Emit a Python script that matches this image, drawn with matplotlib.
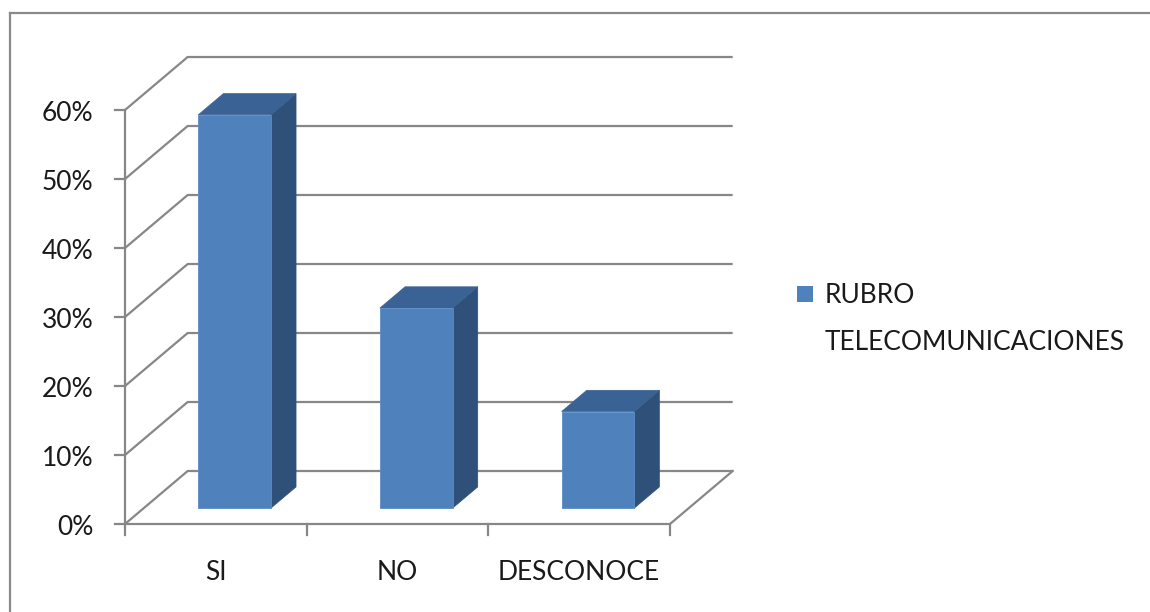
import matplotlib
matplotlib.use("Agg")
import matplotlib.pyplot as plt
from matplotlib.patches import Polygon, Rectangle

# Chart data
categories = ["SI", "NO", "DESCONOCE"]
values = [57, 29, 14]  # percent
y_ticks = [0, 10, 20, 30, 40, 50, 60]
y_tick_labels = ["0%", "10%", "20%", "30%", "40%", "50%", "60%"]
series_lines = ["RUBRO", "TELECOMUNICACIONES"]

# Oblique projection: depth offset of the back wall in data units
DX = 0.345   # in category units
DY = 7.68    # in percent units
BAR_W = 0.4
D0, D1 = 0.3, 0.7  # bar depth span (fraction of full depth)

FRONT = "#4F81BD"
TOP = "#3B6294"
SIDE = "#2F5079"
GRID = "#878787"
TEXT = "#1a1a1a"
FONT = "Lato"
FS = 19

fig = plt.figure(figsize=(11.5, 6.12), dpi=100)
fig.patch.set_facecolor("white")

# Outer chart border (left and top edges visible)
fig.add_artist(plt.Line2D([10 / 1150, 10 / 1150], [0, 1 - 13 / 612],
                          transform=fig.transFigure, color="#8A8A8A", lw=1.6))
fig.add_artist(plt.Line2D([10 / 1150, 1], [1 - 13 / 612, 1 - 13 / 612],
                          transform=fig.transFigure, color="#8A8A8A", lw=1.6))

# Plot axes; limits give 181.67 px per category and 6.9 px per percent
ax = fig.add_axes([20 / 1150, 12 / 612, 740 / 1150, 570 / 612])
ax.set_xlim((20 - 125) / 181.67, (760 - 125) / 181.67)
ax.set_ylim((524 - 600) / 6.9, (524 - 30) / 6.9)
ax.axis("off")

n = len(categories)
ymax = y_ticks[-1]

# Walls: side-wall diagonals and back-wall gridlines
for v in y_ticks:
    ax.plot([0, DX, n + DX], [v, v + DY, v + DY], color=GRID, lw=1.6,
            solid_capstyle="butt", zorder=1)
# Floor outline
ax.plot([0, n, n + DX], [0, 0, DY], color=GRID, lw=1.6, zorder=1)

# Vertical axis with ticks
ax.plot([0, 0], [0, ymax], color=GRID, lw=1.6, zorder=1)
for v, lab in zip(y_ticks, y_tick_labels):
    ax.plot([-0.055, 0], [v, v], color=GRID, lw=1.6, zorder=1)
    ax.text(-0.175, v - 0.5, lab, ha="right", va="center", fontsize=FS,
            family=FONT, color=TEXT)

# Category axis ticks and labels
for i in range(n + 1):
    ax.plot([i, i], [0, -1.6], color=GRID, lw=1.6, zorder=1)
for i, cat in enumerate(categories):
    ax.text(i + 0.5, -7.1, cat, ha="center", va="center", fontsize=FS,
            family=FONT, color=TEXT)

# 3D columns
for i, v in enumerate(values):
    x0 = i + 0.5 - BAR_W / 2 + D0 * DX
    x1 = x0 + BAR_W
    y0 = D0 * DY
    ox, oy = (D1 - D0) * DX, (D1 - D0) * DY
    side = Polygon([(x1, y0), (x1 + ox, y0 + oy), (x1 + ox, y0 + oy + v), (x1, y0 + v)],
                   closed=True, facecolor=SIDE, edgecolor=SIDE, lw=0.5, zorder=3)
    top = Polygon([(x0, y0 + v), (x0 + ox, y0 + oy + v), (x1 + ox, y0 + oy + v), (x1, y0 + v)],
                  closed=True, facecolor=TOP, edgecolor=TOP, lw=0.5, zorder=3)
    front = Rectangle((x0, y0), BAR_W, v, facecolor=FRONT, edgecolor="#5B8CC6",
                      lw=0.6, zorder=4)
    ax.add_patch(side)
    ax.add_patch(top)
    ax.add_patch(front)

# Legend
fig.add_artist(Rectangle((797 / 1150, 1 - 302 / 612), 16 / 1150, 16 / 612,
                         transform=fig.transFigure, facecolor=FRONT, edgecolor="none"))
fig.text(825 / 1150, 1 - 295 / 612, series_lines[0], ha="left", va="center",
         fontsize=FS, family=FONT, color=TEXT)
fig.text(825 / 1150, 1 - 342 / 612, series_lines[1], ha="left", va="center",
         fontsize=FS, family=FONT, color=TEXT)

fig.savefig("out.png", dpi=100, facecolor="white")
